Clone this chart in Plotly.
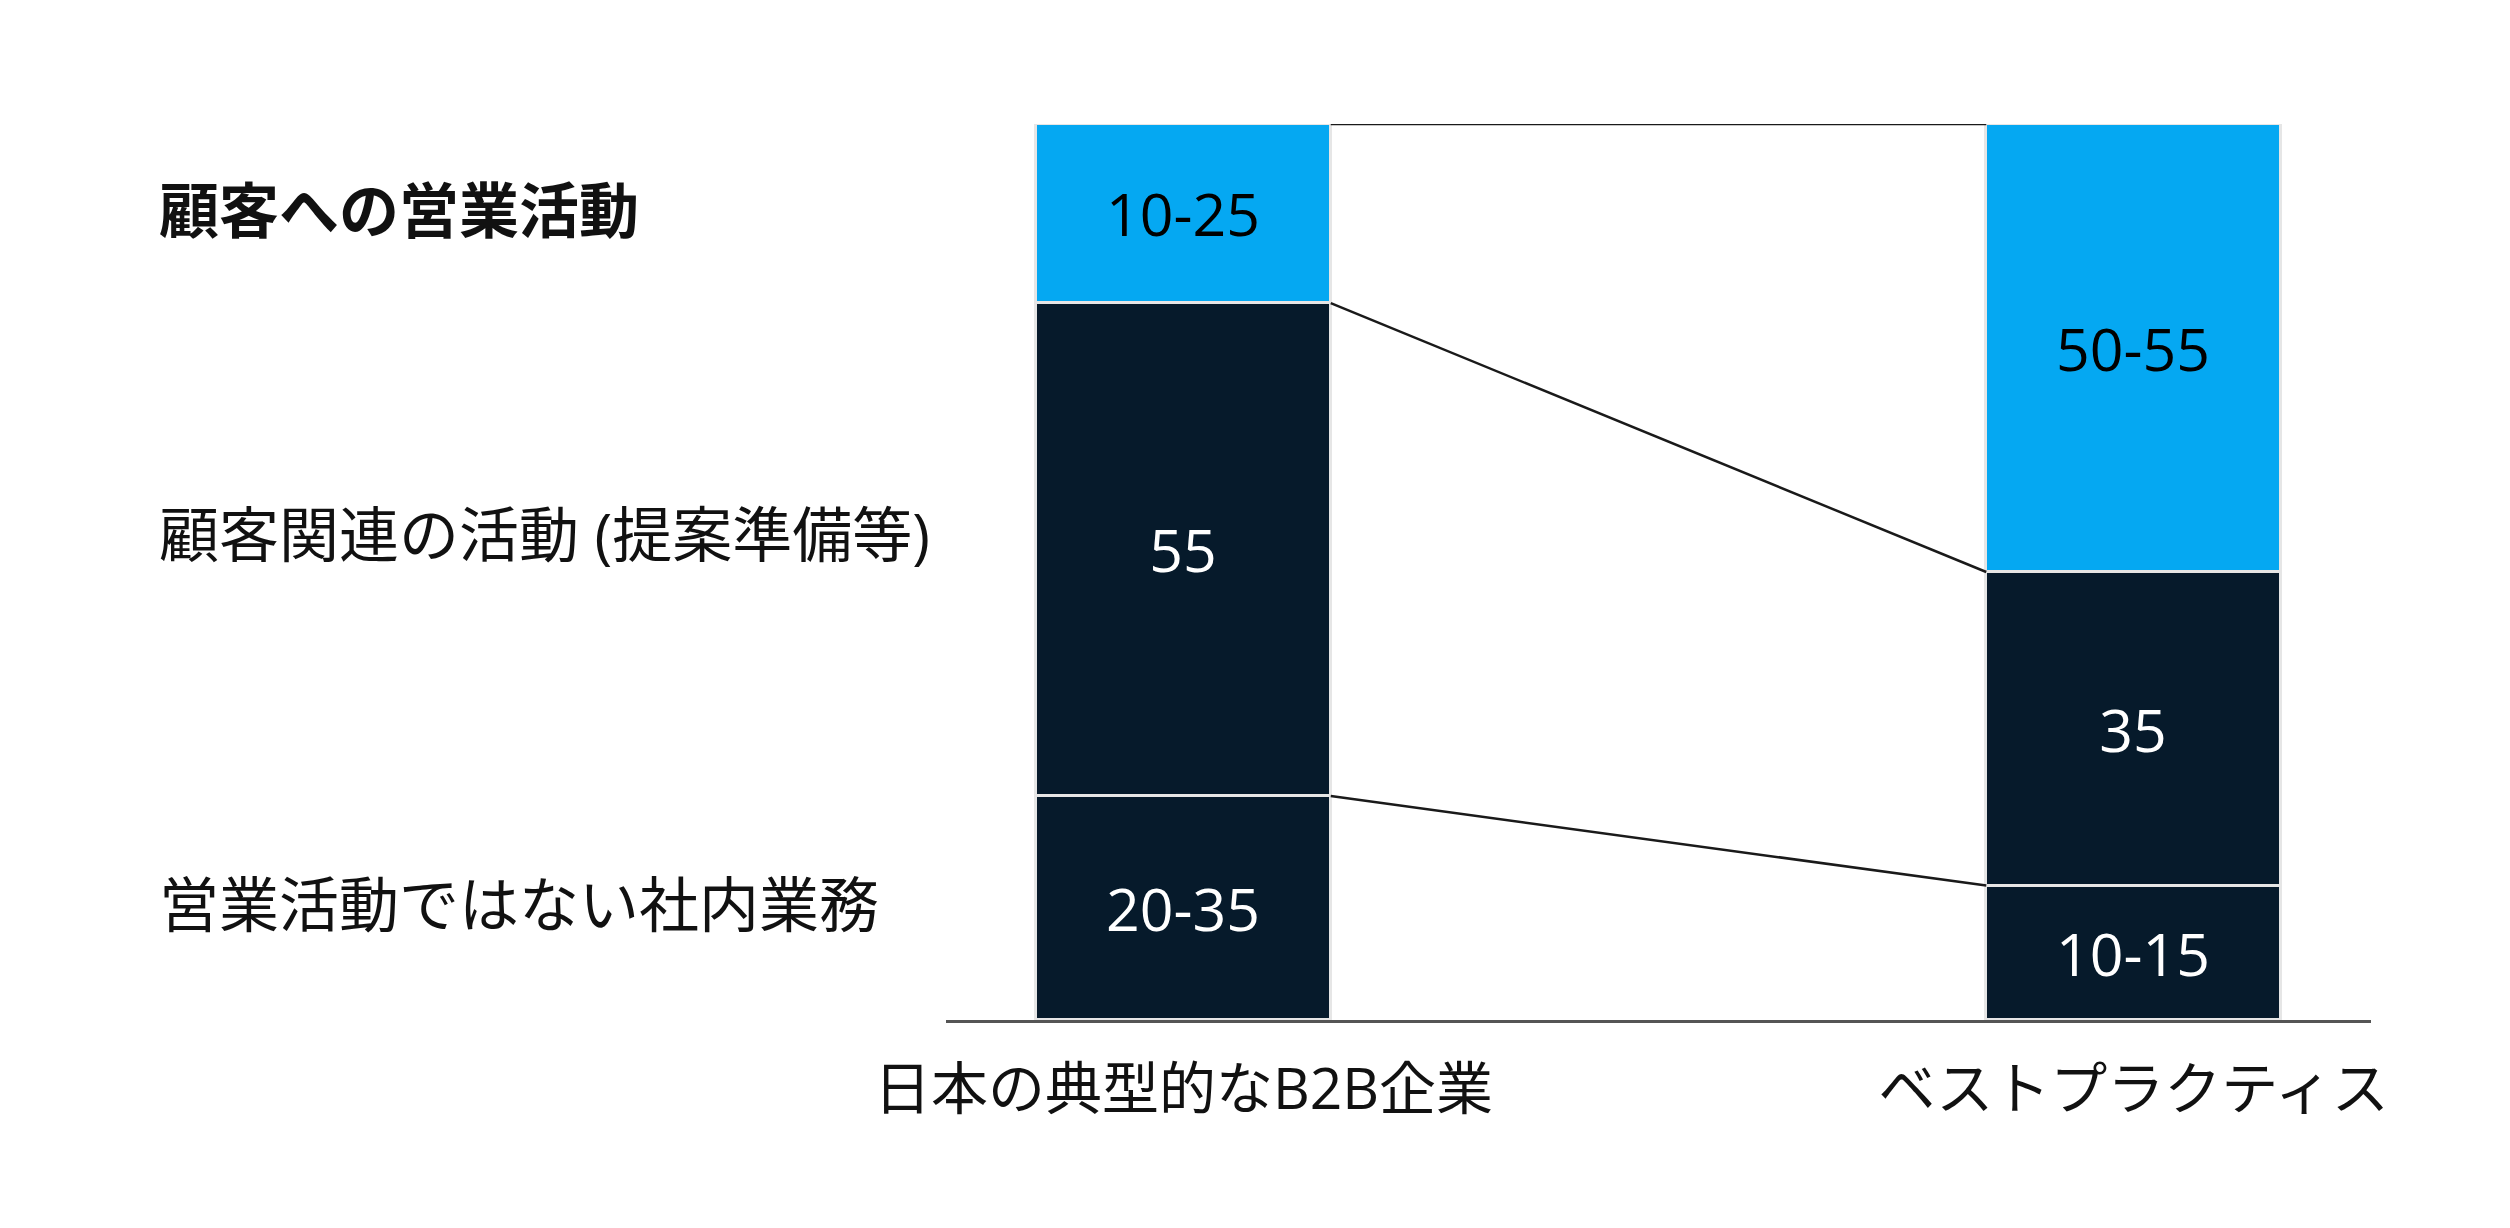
import plotly.graph_objects as go

# データ
categories = ['日本の典型的なB2B企業', 'ベストプラクティス']
series_names = ['営業活動ではない社内業務', '顧客関連の活動 (提案準備等)', '顧客への営業活動']
series_values = [
    [25, 15],   # 社内業務
    [55, 35],   # 顧客関連
    [20, 50],   # 営業活動
]
series_labels = [
    ['20-35', '10-15'],
    ['55', '35'],
    ['10-25', '50-55'],
]
series_colors = ['#061a2b', '#061a2b', '#05a8f2']
text_colors = ['white', 'white', 'black']
bold_flags = [False, False, True]
label_shift = [4, 16, 4]

BAR_W = 0.31
FONT = 'Open Sans, Noto Sans CJK JP'

fig = go.Figure()

for name, vals, labs, col, tcol in zip(series_names, series_values, series_labels,
                                       series_colors, text_colors):
    fig.add_trace(go.Bar(
        x=[0, 1], y=vals, name=name, width=BAR_W,
        marker=dict(color=col, line=dict(color='#e6e6e6', width=3)),
        text=labs, textposition='inside', insidetextanchor='middle',
        textangle=0, constraintext='none',
        textfont=dict(size=59, color=tcol, family=FONT),
        hoverinfo='skip',
    ))

# 区切りの接続線
cum_left, cum_right = 0, 0
bounds = []
for vals in series_values:
    cum_left += vals[0]
    cum_right += vals[1]
    bounds.append((cum_left, cum_right))

for yl, yr in bounds:
    fig.add_trace(go.Scatter(
        x=[BAR_W / 2, 1 - BAR_W / 2], y=[yl, yr], mode='lines',
        line=dict(color='#1a1a1a', width=2.5), cliponaxis=False,
        showlegend=False, hoverinfo='skip',
    ))

# 左側のラベル
cum = 0
for name, vals, bold, ys in zip(series_names, series_values, bold_flags, label_shift):
    mid = cum + vals[0] / 2
    cum += vals[0]
    fig.add_annotation(
        x=-0.554, xref='paper', y=mid, yref='y', xanchor='left', yanchor='middle',
        yshift=ys,
        text=f'<b>{name}</b>' if bold else name, showarrow=False,
        font=dict(size=60, color='#111111', family=FONT),
    )

fig.update_layout(
    barmode='stack', bargap=0,
    width=2510, height=1228,
    margin=dict(l=938, r=147, t=116, b=216),
    paper_bgcolor='white', plot_bgcolor='white',
    showlegend=False,
    font=dict(family=FONT),
)
fig.update_xaxes(
    range=[-0.25, 1.25], tickvals=[0, 1], ticktext=categories,
    showgrid=False, zeroline=False,
    showline=True, linecolor='#555555', linewidth=3,
    ticks='', ticklabelstandoff=18,
    tickfont=dict(size=57, color='#111111', family=FONT),
)
fig.update_yaxes(range=[0, 100], visible=False, showgrid=False)

fig.write_html('out.html')
